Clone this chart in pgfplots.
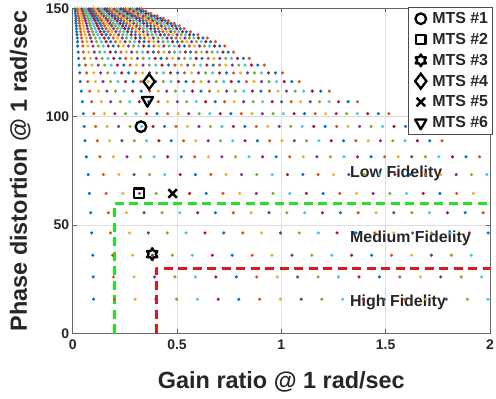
\documentclass[border=0pt]{standalone}
\usepackage{fontspec}
\setmainfont{Liberation Sans}
\usepackage{pgfplots}
\usepackage{pgfplotstable}
\pgfplotsset{compat=1.18}
\usetikzlibrary{plotmarks}

\definecolor{c1}{rgb}{0,0.447,0.741}
\definecolor{c2}{rgb}{0.85,0.325,0.098}
\definecolor{c3}{rgb}{0.929,0.694,0.125}
\definecolor{c4}{rgb}{0.494,0.184,0.556}
\definecolor{c5}{rgb}{0.466,0.674,0.188}
\definecolor{c6}{rgb}{0.301,0.745,0.933}
\definecolor{c7}{rgb}{0.635,0.078,0.184}

\pgfdeclareplotmark{hexagram}{%
  \pgfpathmoveto{\pgfpointpolar{90}{\pgfplotmarksize}}%
  \pgfpathlineto{\pgfpointpolar{120}{0.58\pgfplotmarksize}}%
  \pgfpathlineto{\pgfpointpolar{150}{\pgfplotmarksize}}%
  \pgfpathlineto{\pgfpointpolar{180}{0.58\pgfplotmarksize}}%
  \pgfpathlineto{\pgfpointpolar{210}{\pgfplotmarksize}}%
  \pgfpathlineto{\pgfpointpolar{240}{0.58\pgfplotmarksize}}%
  \pgfpathlineto{\pgfpointpolar{270}{\pgfplotmarksize}}%
  \pgfpathlineto{\pgfpointpolar{300}{0.58\pgfplotmarksize}}%
  \pgfpathlineto{\pgfpointpolar{330}{\pgfplotmarksize}}%
  \pgfpathlineto{\pgfpointpolar{0}{0.58\pgfplotmarksize}}%
  \pgfpathlineto{\pgfpointpolar{30}{\pgfplotmarksize}}%
  \pgfpathlineto{\pgfpointpolar{60}{0.58\pgfplotmarksize}}%
  \pgfpathclose
  \pgfusepathqstroke
}

% grid of design points: one row per phase level, column k = k-th gain step
\pgfplotstableread{
y x1 x2 x3 x4 x5 x6 x7 x8 x9 x10 x11 x12 x13 x14 x15 x16 x17 x18 x19 x20 x21 x22 x23 x24 x25 x26 x27 x28 x29 x30
15.8 0.100 0.199 0.299 0.398 0.498 0.597 0.697 0.796 0.896 0.995 1.095 1.194 1.294 1.393 1.493 1.592 1.692 1.791 1.891 1.990 nan nan nan nan nan nan nan nan nan nan
26.1 0.098 0.196 0.294 0.392 0.490 0.588 0.686 0.784 0.882 0.980 1.078 1.176 1.274 1.372 1.470 1.568 1.666 1.764 1.862 1.960 nan nan nan nan nan nan nan nan nan nan
36.1 0.096 0.191 0.287 0.382 0.478 0.573 0.669 0.764 0.860 0.955 1.051 1.146 1.242 1.337 1.433 1.528 1.624 1.719 1.815 1.910 nan nan nan nan nan nan nan nan nan nan
46.4 0.091 0.181 0.272 0.362 0.453 0.543 0.634 0.724 0.815 0.905 0.996 1.086 1.177 1.267 1.358 1.448 1.539 1.629 1.720 1.810 1.901 1.991 nan nan nan nan nan nan nan nan
55.7 0.086 0.171 0.257 0.342 0.428 0.513 0.599 0.684 0.770 0.855 0.941 1.026 1.112 1.197 1.283 1.368 1.454 1.539 1.625 1.710 1.796 1.881 1.967 nan nan nan nan nan nan nan
64.6 0.080 0.160 0.240 0.320 0.400 0.480 0.560 0.640 0.720 0.800 0.880 0.960 1.040 1.120 1.200 1.280 1.360 1.440 1.520 1.600 1.680 1.760 1.840 1.920 nan nan nan nan nan nan
73.3 0.074 0.147 0.221 0.294 0.368 0.441 0.515 0.588 0.662 0.735 0.809 0.882 0.956 1.029 1.103 1.176 1.250 1.323 1.397 1.470 1.544 1.617 1.691 1.764 1.838 1.911 1.985 nan nan nan
81.5 0.065 0.130 0.195 0.260 0.325 0.390 0.455 0.520 0.585 0.650 0.715 0.780 0.845 0.910 0.975 1.040 1.105 1.170 1.235 1.300 1.365 1.430 1.495 1.560 1.625 1.690 1.755 1.820 1.885 1.950
88.9 0.059 0.118 0.177 0.236 0.295 0.354 0.413 0.472 0.531 0.590 0.649 0.708 0.767 0.826 0.885 0.944 1.003 1.062 1.121 1.180 1.239 1.298 1.357 1.416 1.475 1.534 1.593 1.652 1.711 1.770
95.5 0.055 0.110 0.165 0.220 0.275 0.330 0.385 0.440 0.495 0.550 0.605 0.660 0.715 0.770 0.825 0.880 0.935 0.990 1.045 1.100 1.155 1.210 1.265 1.320 1.375 1.430 1.485 1.540 1.595 1.650
101.4 0.051 0.101 0.152 0.202 0.253 0.303 0.354 0.404 0.455 0.505 0.556 0.606 0.657 0.707 0.758 0.808 0.859 0.909 0.960 1.010 1.061 1.111 1.162 1.212 1.263 1.313 1.364 1.414 1.465 1.515
106.9 0.046 0.091 0.137 0.182 0.228 0.273 0.319 0.364 0.410 0.455 0.501 0.546 0.592 0.637 0.683 0.728 0.774 0.819 0.865 0.910 0.956 1.001 1.047 1.092 1.138 1.183 1.229 1.274 1.320 1.365
111.8 0.041 0.082 0.123 0.164 0.205 0.246 0.287 0.328 0.369 0.410 0.451 0.492 0.533 0.574 0.615 0.656 0.697 0.738 0.779 0.820 0.861 0.902 0.943 0.984 1.025 1.066 1.107 1.148 1.189 1.230
116.2 0.036 0.072 0.109 0.145 0.181 0.217 0.253 0.290 0.326 0.362 0.398 0.434 0.471 0.507 0.543 0.579 0.615 0.652 0.688 0.724 0.760 0.796 0.833 0.869 0.905 0.941 0.977 1.014 1.050 1.086
120.2 0.034 0.067 0.101 0.134 0.168 0.201 0.235 0.268 0.302 0.335 0.369 0.402 0.436 0.469 0.503 0.536 0.570 0.603 0.637 0.670 0.704 0.737 0.771 0.804 0.838 0.871 0.905 0.938 0.972 1.005
123.8 0.031 0.061 0.092 0.122 0.153 0.184 0.214 0.245 0.275 0.306 0.337 0.367 0.398 0.428 0.459 0.490 0.520 0.551 0.581 0.612 0.643 0.673 0.704 0.734 0.765 0.796 0.826 0.857 0.887 0.918
126.9 0.028 0.056 0.085 0.113 0.141 0.169 0.197 0.226 0.254 0.282 0.310 0.338 0.367 0.395 0.423 0.451 0.479 0.508 0.536 0.564 0.592 0.620 0.649 0.677 0.705 0.733 0.761 0.790 0.818 0.846
129.8 0.026 0.051 0.077 0.103 0.129 0.154 0.180 0.206 0.231 0.257 0.283 0.308 0.334 0.360 0.386 0.411 0.437 0.463 0.488 0.514 0.540 0.565 0.591 0.617 0.643 0.668 0.694 0.720 0.745 0.771
132.6 0.024 0.049 0.073 0.097 0.122 0.146 0.170 0.194 0.219 0.243 0.267 0.292 0.316 0.340 0.365 0.389 0.413 0.437 0.462 0.486 0.510 0.535 0.559 0.583 0.608 0.632 0.656 0.680 0.705 0.729
134.6 0.023 0.046 0.068 0.091 0.114 0.137 0.160 0.182 0.205 0.228 0.251 0.274 0.296 0.319 0.342 0.365 0.388 0.410 0.433 0.456 0.479 0.502 0.524 0.547 0.570 0.593 0.616 0.638 0.661 0.684
136.3 0.022 0.043 0.065 0.086 0.108 0.129 0.151 0.172 0.194 0.215 0.237 0.258 0.280 0.301 0.323 0.344 0.366 0.387 0.409 0.430 0.452 0.473 0.495 0.516 0.538 0.559 0.581 0.602 0.624 0.645
137.8 0.020 0.040 0.060 0.080 0.100 0.120 0.140 0.160 0.180 0.200 0.220 0.240 0.260 0.280 0.300 0.320 0.340 0.360 0.380 0.400 0.420 0.440 0.460 0.480 0.500 0.520 0.540 0.560 0.580 0.600
139.2 0.019 0.038 0.056 0.075 0.094 0.113 0.132 0.150 0.169 0.188 0.207 0.226 0.244 0.263 0.282 0.301 0.320 0.338 0.357 0.376 0.395 0.414 0.432 0.451 0.470 0.489 0.508 0.526 0.545 0.564
140.6 0.018 0.036 0.053 0.071 0.089 0.107 0.125 0.142 0.160 0.178 0.196 0.214 0.231 0.249 0.267 0.285 0.303 0.320 0.338 0.356 0.374 0.392 0.409 0.427 0.445 0.463 0.481 0.498 0.516 0.534
141.9 0.017 0.034 0.051 0.068 0.085 0.102 0.119 0.136 0.153 0.170 0.187 0.204 0.221 0.238 0.255 0.272 0.289 0.306 0.323 0.340 0.357 0.374 0.391 0.408 0.425 0.442 0.459 0.476 0.493 0.510
143.1 0.016 0.032 0.049 0.065 0.081 0.097 0.113 0.130 0.146 0.162 0.178 0.194 0.211 0.227 0.243 0.259 0.275 0.292 0.308 0.324 0.340 0.356 0.373 0.389 0.405 0.421 0.437 0.454 0.470 0.486
144.3 0.015 0.031 0.046 0.061 0.077 0.092 0.107 0.122 0.138 0.153 0.168 0.184 0.199 0.214 0.230 0.245 0.260 0.275 0.291 0.306 0.321 0.337 0.352 0.367 0.383 0.398 0.413 0.428 0.444 0.459
145.4 0.015 0.029 0.044 0.058 0.073 0.087 0.102 0.116 0.131 0.145 0.160 0.174 0.189 0.203 0.218 0.232 0.247 0.261 0.276 0.290 0.305 0.319 0.334 0.348 0.363 0.377 0.392 0.406 0.421 0.435
146.5 0.014 0.027 0.041 0.054 0.068 0.081 0.095 0.108 0.122 0.135 0.149 0.162 0.176 0.189 0.203 0.216 0.230 0.243 0.257 0.270 0.284 0.297 0.311 0.324 0.338 0.351 0.365 0.378 0.392 0.405
147.6 0.013 0.025 0.038 0.050 0.063 0.075 0.088 0.100 0.113 0.125 0.138 0.150 0.163 0.175 0.188 0.200 0.213 0.225 0.238 0.250 0.263 0.275 0.288 0.300 0.313 0.325 0.338 0.350 0.363 0.375
148.7 0.012 0.023 0.035 0.047 0.059 0.070 0.082 0.094 0.105 0.117 0.129 0.140 0.152 0.164 0.176 0.187 0.199 0.211 0.222 0.234 0.246 0.257 0.269 0.281 0.293 0.304 0.316 0.328 0.339 0.351
149.7 0.011 0.022 0.033 0.044 0.055 0.066 0.077 0.088 0.099 0.110 0.121 0.132 0.143 0.154 0.165 0.176 0.187 0.198 0.209 0.220 0.231 0.242 0.253 0.264 0.275 0.286 0.297 0.308 0.319 0.330
}\grid

\pgfplotsset{dot/.style={only marks, mark=*, mark size=1.5bp, forget plot, mark options={line width=0.2bp}}}

\begin{document}
\begin{tikzpicture}
\begin{axis}[
  name=ax, scale only axis, width=417bp, height=325bp,
  xmin=0, xmax=2, ymin=0, ymax=150,
  xtick={0,0.5,1,1.5,2}, ytick={0,50,100,150},
  grid=major, major grid style={gray!25, line width=0.5bp},
  tick align=inside, major tick length=4bp,
  axis line style={black!60, line width=0.8bp},
  tick style={black!60, line width=0.6bp},
  /pgf/number format/assume math mode=true,
  ticklabel style={font=\bfseries\fontsize{14}{14}\selectfont, text=black!85},
  xticklabel style={yshift=-3bp},
  xlabel={Gain ratio @ 1 rad/sec},
  ylabel={Phase distortion @ 1 rad/sec},
  label style={font=\bfseries\fontsize{23.5}{24}\selectfont, text=black!85},
  xlabel style={at={(axis description cs:0.5,-0.168)}, anchor=base},
  ylabel style={at={(axis description cs:-0.126,0.5)}, anchor=center},
  legend style={at={(1.006,1.004)}, anchor=north east, draw=black!70, line width=0.8bp,
    fill=white, font=\bfseries\fontsize{16}{16}\selectfont, text=black!85,
    inner xsep=2bp, inner ysep=3bp, row sep=4.2bp},
  legend cell align=left,
  legend image code/.code={\path (0,0) (0.62cm,0);\draw[#1] plot coordinates {(0.33cm,0cm)};},
]
\addplot[dot, c1] table[x=x1,y=y]{\grid};
\addplot[dot, c2] table[x=x2,y=y]{\grid};
\addplot[dot, c3] table[x=x3,y=y]{\grid};
\addplot[dot, c4] table[x=x4,y=y]{\grid};
\addplot[dot, c5] table[x=x5,y=y]{\grid};
\addplot[dot, c6] table[x=x6,y=y]{\grid};
\addplot[dot, c7] table[x=x7,y=y]{\grid};
\addplot[dot, c1] table[x=x8,y=y]{\grid};
\addplot[dot, c2] table[x=x9,y=y]{\grid};
\addplot[dot, c3] table[x=x10,y=y]{\grid};
\addplot[dot, c4] table[x=x11,y=y]{\grid};
\addplot[dot, c5] table[x=x12,y=y]{\grid};
\addplot[dot, c6] table[x=x13,y=y]{\grid};
\addplot[dot, c7] table[x=x14,y=y]{\grid};
\addplot[dot, c1] table[x=x15,y=y]{\grid};
\addplot[dot, c2] table[x=x16,y=y]{\grid};
\addplot[dot, c3] table[x=x17,y=y]{\grid};
\addplot[dot, c4] table[x=x18,y=y]{\grid};
\addplot[dot, c5] table[x=x19,y=y]{\grid};
\addplot[dot, c6] table[x=x20,y=y]{\grid};
\addplot[dot, c7] table[x=x21,y=y]{\grid};
\addplot[dot, c1] table[x=x22,y=y]{\grid};
\addplot[dot, c2] table[x=x23,y=y]{\grid};
\addplot[dot, c3] table[x=x24,y=y]{\grid};
\addplot[dot, c4] table[x=x25,y=y]{\grid};
\addplot[dot, c5] table[x=x26,y=y]{\grid};
\addplot[dot, c6] table[x=x27,y=y]{\grid};
\addplot[dot, c7] table[x=x28,y=y]{\grid};
\addplot[dot, c1] table[x=x29,y=y]{\grid};
\addplot[dot, c2] table[x=x30,y=y]{\grid};

% fidelity boundaries
\addplot[forget plot, color={rgb,1:red,0.15;green,0.88;blue,0.15}, line width=2.8bp, dash pattern=on 9bp off 5.5bp, line join=round]
  coordinates {(0.2,0) (0.2,60) (2,60)};
\addplot[forget plot, color={rgb,1:red,0.86;green,0.1;blue,0.12}, line width=2.8bp, dash pattern=on 9bp off 5.5bp, line join=round]
  coordinates {(0.4,0) (0.4,30) (2,30)};

\node[anchor=west, font=\bfseries\fontsize{16}{16}\selectfont, text=black!85] at (axis cs:1.313,74) {Low Fidelity};
\node[anchor=west, font=\bfseries\fontsize{16}{16}\selectfont, text=black!85] at (axis cs:1.313,44) {Medium Fidelity};
\node[anchor=west, font=\bfseries\fontsize{16}{16}\selectfont, text=black!85] at (axis cs:1.313,14.4) {High Fidelity};

% MTS points
\addplot[only marks, black, mark=o, mark size=5.3bp, line width=2.3bp] coordinates {(0.327,95.4)};
\addlegendentry{MTS \#1}
\addplot[only marks, black, mark=square, mark size=4.8bp, line width=2.3bp, line join=round] coordinates {(0.318,64.6)};
\addlegendentry{MTS \#2}
\addplot[only marks, black, mark=hexagram, mark size=6bp, line width=2.3bp, line join=round] coordinates {(0.381,36.6)};
\addlegendentry{MTS \#3}
\addplot[only marks, black, mark=diamond, mark size=7.5bp, line width=2.3bp] coordinates {(0.366,116.2)};
\addlegendentry{MTS \#4}
\addplot[only marks, black, mark=x, mark size=6bp, line width=2.5bp] coordinates {(0.479,64.6)};
\addlegendentry{MTS \#5}
\addplot[only marks, black, mark=triangle, mark size=6.5bp, line width=2.3bp, line join=round, mark options={rotate=180}] coordinates {(0.358,107.6)};
\addlegendentry{MTS \#6}
\end{axis}
\pgfresetboundingbox
\path ([shift={(-72.7bp,-64.7bp)}]ax.south west) rectangle ([shift={(6bp,8.3bp)}]ax.north east);
\end{tikzpicture}
\end{document}
